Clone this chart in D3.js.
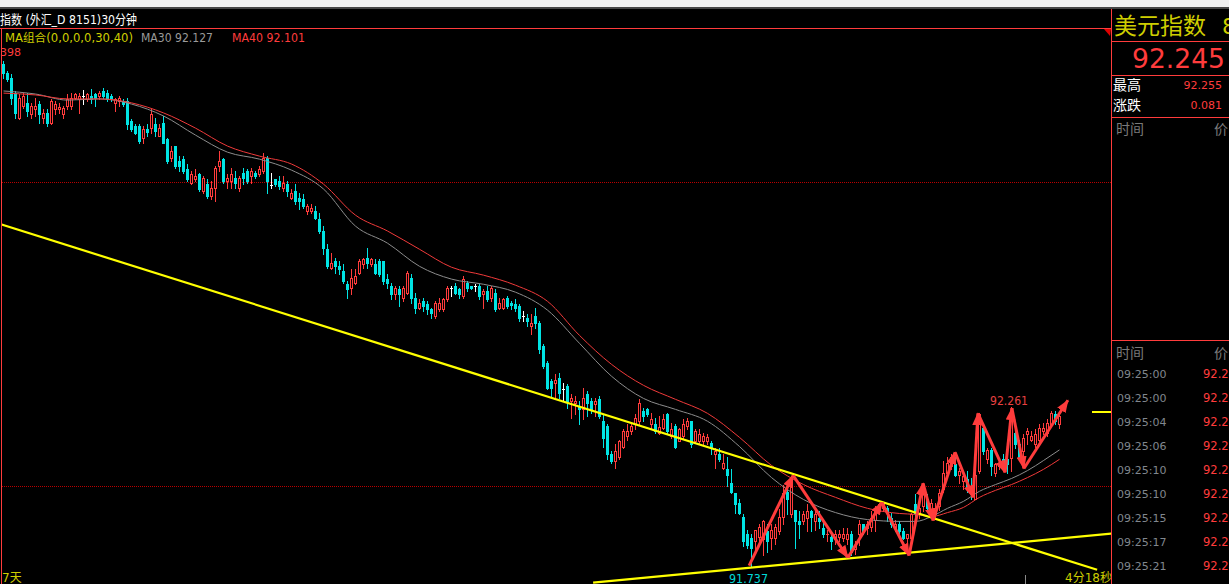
<!DOCTYPE html>
<html><head><meta charset="utf-8">
<script src="https://cdn.jsdelivr.net/npm/d3@7"></script>
<style>
html,body{margin:0;padding:0;background:#000;overflow:hidden;}
svg{display:block;}
text{font-family:"DejaVu Sans","Noto Sans CJK SC",sans-serif;}
</style></head><body>
<svg id="c" width="1229" height="584"></svg>
<script>
// ---------------- DATA ----------------
const opens=[
93.388,93.358,93.342,93.292,93.210,93.250,93.260,93.223,93.240,93.256,
93.210,93.227,93.194,93.240,93.240,93.223,93.250,93.250,93.276,93.273,
93.283,93.273,93.283,93.289,93.283,93.299,93.292,93.283,93.260,93.266,
93.266,93.266,93.200,93.184,93.184,93.144,93.174,93.177,93.190,93.151,
93.194,93.141,93.079,93.118,93.069,93.075,93.042,92.996,93.010,93.026,
92.970,92.993,92.954,92.980,93.052,93.075,93.003,93.003,93.013,92.980,
93.029,93.036,93.019,93.029,93.026,93.036,93.079,92.990,93.010,93.003,
92.980,92.993,92.947,92.970,92.947,92.944,92.904,92.904,92.904,92.878,
92.839,92.779,92.717,92.740,92.723,92.707,92.664,92.651,92.668,92.700,
92.730,92.750,92.730,92.730,92.740,92.740,92.681,92.658,92.631,92.648,
92.618,92.635,92.684,92.618,92.585,92.608,92.598,92.582,92.559,92.582,
92.582,92.615,92.651,92.658,92.648,92.625,92.668,92.658,92.658,92.658,
92.631,92.641,92.618,92.635,92.585,92.585,92.618,92.602,92.598,92.592,
92.559,92.552,92.526,92.559,92.536,92.460,92.404,92.345,92.339,92.355,
92.319,92.329,92.279,92.273,92.263,92.253,92.302,92.279,92.270,92.286,
92.214,92.197,92.105,92.082,92.098,92.131,92.164,92.181,92.204,92.214,
92.247,92.253,92.204,92.204,92.174,92.191,92.237,92.164,92.197,92.148,
92.164,92.197,92.214,92.148,92.148,92.148,92.148,92.141,92.105,92.105,
92.059,92.056,92.010,91.977,91.944,91.901,91.845,91.829,91.819,91.835,
91.826,91.852,91.829,91.829,91.852,91.901,91.983,91.908,91.924,91.885,
91.885,91.895,91.918,91.885,91.895,91.862,91.842,91.835,91.826,91.835,
91.829,91.826,91.845,91.793,91.842,91.875,91.862,91.868,91.891,91.918,
91.928,91.928,91.895,91.862,91.875,91.852,91.829,91.829,91.941,91.908,
91.934,91.960,91.918,91.908,91.934,91.990,92.043,92.066,92.072,92.039,
92.017,92.023,92.000,91.960,92.049,92.191,92.089,92.121,92.043,92.066,
92.089,92.089,92.092,92.174,92.138,92.115,92.171,92.154,92.138,92.154,
92.181,92.174,92.204,92.237,92.204];
const highs=[
93.398,93.365,93.355,93.299,93.289,93.292,93.292,93.260,93.276,93.266,
93.240,93.240,93.273,93.266,93.260,93.250,93.289,93.292,93.292,93.292,
93.302,93.292,93.306,93.292,93.299,93.309,93.302,93.289,93.276,93.283,
93.273,93.276,93.207,93.190,93.190,93.184,93.190,93.240,93.210,93.190,
93.217,93.144,93.118,93.118,93.085,93.085,93.059,93.036,93.042,93.029,
93.019,93.010,93.003,93.052,93.102,93.079,93.026,93.046,93.036,93.019,
93.046,93.042,93.046,93.036,93.052,93.095,93.085,93.029,93.010,93.019,
93.019,93.003,92.977,92.993,92.964,92.960,92.927,92.927,92.921,92.898,
92.855,92.796,92.766,92.750,92.740,92.730,92.674,92.714,92.714,92.746,
92.750,92.783,92.750,92.746,92.746,92.740,92.697,92.668,92.658,92.658,
92.658,92.707,92.697,92.635,92.615,92.618,92.608,92.585,92.608,92.618,
92.618,92.658,92.658,92.668,92.651,92.690,92.674,92.658,92.664,92.664,
92.648,92.658,92.658,92.648,92.618,92.618,92.625,92.608,92.615,92.598,
92.575,92.566,92.566,92.585,92.543,92.467,92.411,92.352,92.368,92.371,
92.339,92.335,92.302,92.296,92.279,92.322,92.312,92.289,92.289,92.296,
92.237,92.204,92.115,92.138,92.154,92.187,92.204,92.207,92.237,92.286,
92.256,92.256,92.240,92.224,92.230,92.237,92.240,92.207,92.204,92.191,
92.220,92.224,92.214,92.187,92.187,92.174,92.171,92.148,92.125,92.125,
92.105,92.098,92.056,91.977,91.957,91.908,91.858,91.842,91.858,91.875,
91.891,91.875,91.878,91.875,91.927,92.006,92.010,92.033,91.924,91.918,
91.918,91.941,91.924,91.927,91.918,91.885,91.858,91.852,91.858,91.858,
91.862,91.862,91.852,91.819,91.891,91.878,91.885,91.918,91.934,91.944,
91.950,91.934,91.911,91.891,91.885,91.862,91.845,91.911,91.974,91.941,
92.010,91.974,91.960,91.944,91.990,92.082,92.098,92.108,92.098,92.059,
92.039,92.049,92.026,92.092,92.240,92.204,92.125,92.125,92.076,92.092,
92.105,92.092,92.261,92.191,92.154,92.171,92.191,92.181,92.187,92.204,
92.207,92.220,92.247,92.247,92.240];
const lows=[
93.342,93.332,93.256,93.210,93.207,93.243,93.217,93.210,93.217,93.194,
93.194,93.184,93.190,93.223,93.227,93.210,93.240,93.240,93.273,93.227,
93.256,93.266,93.260,93.250,93.273,93.276,93.266,93.266,93.233,93.250,
93.250,93.174,93.167,93.158,93.128,93.128,93.151,93.161,93.151,93.151,
93.128,93.062,93.069,93.046,93.036,93.029,93.003,92.993,93.003,92.970,
92.964,92.947,92.944,92.937,93.036,92.996,92.980,92.980,92.980,92.970,
92.993,92.996,92.996,93.013,93.019,93.029,92.964,92.980,92.987,92.977,
92.970,92.954,92.944,92.927,92.911,92.914,92.894,92.898,92.878,92.832,
92.763,92.717,92.714,92.700,92.697,92.668,92.618,92.631,92.664,92.697,
92.717,92.717,92.723,92.697,92.690,92.664,92.651,92.615,92.615,92.592,
92.608,92.631,92.602,92.569,92.582,92.575,92.566,92.552,92.552,92.575,
92.575,92.608,92.625,92.631,92.618,92.618,92.641,92.648,92.641,92.615,
92.585,92.608,92.608,92.575,92.582,92.582,92.585,92.582,92.575,92.543,
92.543,92.526,92.500,92.520,92.437,92.388,92.319,92.296,92.289,92.289,
92.279,92.256,92.224,92.237,92.204,92.220,92.230,92.240,92.230,92.224,
92.131,92.089,92.076,92.059,92.089,92.125,92.154,92.171,92.187,92.204,
92.214,92.230,92.191,92.174,92.171,92.187,92.174,92.158,92.125,92.148,
92.158,92.187,92.131,92.141,92.138,92.138,92.138,92.105,92.059,92.082,
92.056,92.000,91.977,91.911,91.908,91.803,91.796,91.737,91.779,91.809,
91.776,91.786,91.793,91.812,91.845,91.875,91.908,91.901,91.796,91.829,
91.875,91.852,91.852,91.858,91.862,91.835,91.819,91.793,91.812,91.819,
91.819,91.812,91.776,91.779,91.809,91.842,91.845,91.852,91.852,91.911,
91.918,91.885,91.868,91.852,91.845,91.826,91.809,91.819,91.885,91.895,
91.918,91.918,91.911,91.895,91.924,91.983,92.026,92.056,92.033,92.010,
91.993,91.983,91.960,91.957,92.043,92.105,92.076,92.039,92.033,92.056,
92.059,92.043,92.049,92.125,92.092,92.089,92.138,92.148,92.131,92.148,
92.171,92.164,92.197,92.204,92.191];
const closes=[
93.358,93.338,93.276,93.227,93.276,93.283,93.233,93.250,93.250,93.223,
93.227,93.194,93.266,93.256,93.246,93.243,93.273,93.276,93.289,93.283,
93.283,93.289,93.273,93.276,93.292,93.283,93.273,93.273,93.273,93.276,
93.256,93.190,93.174,93.161,93.135,93.174,93.164,93.223,93.167,93.177,
93.128,93.069,93.102,93.052,93.052,93.036,93.010,93.026,93.019,92.977,
93.013,92.954,92.980,93.046,93.069,93.003,93.013,93.026,92.996,93.013,
93.013,93.003,93.036,93.019,93.042,93.079,93.003,92.990,92.993,92.987,
92.996,92.970,92.964,92.937,92.937,92.921,92.921,92.914,92.881,92.839,
92.783,92.723,92.733,92.723,92.714,92.674,92.648,92.684,92.690,92.740,
92.746,92.733,92.746,92.700,92.697,92.674,92.668,92.631,92.651,92.631,
92.651,92.700,92.618,92.585,92.602,92.592,92.582,92.569,92.602,92.602,
92.615,92.651,92.651,92.635,92.631,92.681,92.651,92.651,92.658,92.625,
92.641,92.615,92.651,92.582,92.602,92.615,92.592,92.595,92.585,92.552,
92.559,92.543,92.536,92.536,92.450,92.395,92.322,92.322,92.348,92.306,
92.319,92.279,92.289,92.279,92.253,92.289,92.273,92.253,92.279,92.230,
92.158,92.105,92.082,92.115,92.148,92.181,92.181,92.197,92.224,92.273,
92.230,92.237,92.220,92.181,92.194,92.220,92.181,92.187,92.131,92.187,
92.204,92.214,92.138,92.181,92.171,92.164,92.161,92.125,92.115,92.089,
92.076,92.039,91.983,91.941,91.911,91.819,91.809,91.796,91.858,91.868,
91.885,91.819,91.858,91.868,91.901,91.977,91.957,92.017,91.885,91.875,
91.908,91.918,91.901,91.908,91.885,91.842,91.845,91.819,91.842,91.842,
91.845,91.842,91.786,91.809,91.878,91.852,91.875,91.895,91.924,91.941,
91.944,91.911,91.878,91.878,91.852,91.829,91.842,91.908,91.911,91.928,
91.977,91.928,91.944,91.928,91.977,92.043,92.076,92.098,92.039,92.049,
92.033,91.993,91.977,92.039,92.237,92.115,92.121,92.066,92.072,92.076,
92.072,92.072,92.220,92.138,92.098,92.158,92.181,92.164,92.171,92.191,
92.191,92.207,92.240,92.214,92.230];

// moving averages read at sampled bar indices
const maIndex=[0,8,16,24,32,40,48,56,64,72,80,88,96,104,112,120,128,136,144,152,160,168,176,184,192,200,208,216,224,228,232,236,240,244,248,252,256,260,264];
const ma30=[93.299,93.289,93.269,93.273,93.256,93.217,93.154,93.098,93.075,93.039,92.977,92.855,92.799,92.723,92.681,92.664,92.638,92.579,92.470,92.362,92.289,92.253,92.214,92.131,92.029,91.957,91.914,91.891,91.885,91.885,91.901,91.928,91.951,91.984,92.006,92.026,92.052,92.085,92.120];
const ma40=[93.292,93.286,93.273,93.273,93.260,93.227,93.177,93.118,93.085,93.059,92.993,92.891,92.839,92.779,92.720,92.694,92.661,92.608,92.496,92.401,92.332,92.286,92.240,92.161,92.069,92.006,91.964,91.928,91.911,91.908,91.901,91.914,91.931,91.964,91.987,92.006,92.029,92.056,92.089];

const gridPrices=[92,93];
// trend lines: [barIndex, price] endpoints
const trendLines=[[[-0.875,92.862],[273.4,91.726]],[[147.4,91.684],[277.1,91.845]]];
// zigzag arrows: [barIndex, price]
const arrowPts=[[186.4,91.740],[197.4,92.036],[211.1,91.766],[219.6,91.947],[226.4,91.773],[229.9,92.010],[232.4,91.888],[237.9,92.112],[242.4,91.964],[243.6,92.240],[250.4,92.046],[252.1,92.257],[255.1,92.059],[266.1,92.283]];

const titleText="指数 (外汇_D 8151)30分钟";
const legendParts=["MA组合(0,0,0,0,30,40)","MA30 92.127","MA40 92.101"];
const topLabel="93.398";
const highLabel="92.261", lowLabel="91.737";
const symbolName="美元指数", symbolCode="8151";
const lastPrice="92.245";
const infoLabels=["最高","涨跌"], infoValues=["92.255","0.081"];
const lastPriceValue=92.245;
const tickTimes=["09:25:00","09:25:00","09:25:04","09:25:06","09:25:10","09:25:10","09:25:15","09:25:17","09:25:21"];
const tickPrices=["92.245","92.245","92.244","92.244","92.243","92.244","92.245","92.245","92.245"];
const bottomLeft="7天", bottomRight="4分18秒";

// ---------------- DRAW ----------------
const W=1229,H=584;
const RED='#ff3c3c', CYAN='#00e4e4', YEL='#ffff00', TXTY='#cece00';
const svg=d3.select('#c');
const x=d3.scaleLinear().domain([0,264]).range([3.5,1059.5]);
const y=d3.scaleLinear().domain([92,93]).range([486.4,182]);

svg.append('rect').attr('width',W).attr('height',H).attr('fill','#000');
svg.append('rect').attr('width',W).attr('height',7).attr('fill','#f0f0f0');
svg.append('rect').attr('y',7).attr('width',W).attr('height',2).attr('fill','#464646');

const defs=svg.append('defs');
defs.append('clipPath').attr('id','plot').append('rect').attr('x',2).attr('y',29).attr('width',1109).attr('height',555);
defs.append('marker').attr('id','ah').attr('viewBox','0 0 13 10').attr('refX',12).attr('refY',5)
  .attr('markerWidth',13).attr('markerHeight',10).attr('markerUnits','userSpaceOnUse').attr('orient','auto')
  .append('path').attr('d','M0,0L13,5L0,10Z').attr('fill',RED);

// frame lines
const frame=svg.append('g').attr('shape-rendering','crispEdges');
frame.append('line').attr('x1',0).attr('x2',1111).attr('y1',28.5).attr('y2',28.5).attr('stroke',RED);
frame.append('line').attr('x1',1.5).attr('x2',1.5).attr('y1',28).attr('y2',H).attr('stroke',RED);
frame.append('line').attr('x1',1111.5).attr('x2',1111.5).attr('y1',9).attr('y2',H).attr('stroke',RED);
[41.5,75.5,117.5,340.5].forEach(v=>frame.append('line').attr('x1',1112).attr('x2',W).attr('y1',v).attr('y2',v).attr('stroke',RED));

const plot=svg.append('g').attr('clip-path','url(#plot)');
plot.selectAll('line.grid').data(gridPrices).join('line').attr('class','grid')
  .attr('x1',2).attr('x2',1111).attr('y1',d=>Math.round(y(d))+0.5).attr('y2',d=>Math.round(y(d))+0.5)
  .attr('stroke','#b80000').attr('stroke-dasharray','1,1').attr('shape-rendering','crispEdges');

// candles
const candles=d3.range(opens.length).map(i=>({i,o:opens[i],h:highs[i],l:lows[i],c:closes[i]}));
const colorOf=d=>d.c>d.o?RED:(d.c<d.o?CYAN:'#ffffff');
const cg=plot.append('g').attr('shape-rendering','crispEdges');
const g=cg.selectAll('g').data(candles).join('g');
g.append('line')
  .attr('x1',d=>Math.floor(x(d.i))+0.5).attr('x2',d=>Math.floor(x(d.i))+0.5)
  .attr('y1',d=>Math.round(y(d.h))).attr('y2',d=>Math.round(y(d.l))+1)
  .attr('stroke',colorOf);
g.each(function(d){
  const sel=d3.select(this);
  const cx=Math.floor(x(d.i));
  const yo=Math.round(y(d.o)), yc=Math.round(y(d.c));
  const top=Math.min(yo,yc), bot=Math.max(yo,yc);
  if(d.c>d.o && bot-top>=2){
    sel.append('rect').attr('x',cx-0.5).attr('y',top+0.5).attr('width',2).attr('height',bot-top)
      .attr('fill','#000').attr('stroke',RED);
  } else {
    sel.append('rect').attr('x',cx-1).attr('y',top).attr('width',3).attr('height',Math.max(1,bot-top+1)).attr('fill',colorOf(d));
  }
});

// moving averages
const maLine=d3.line().x(d=>x(d[0])).y(d=>y(d[1])).curve(d3.curveMonotoneX);
plot.append('path').datum(maIndex.map((k,j)=>[k,ma30[j]])).attr('d',maLine).attr('fill','none').attr('stroke','#8c8c8c').attr('stroke-width',1);
plot.append('path').datum(maIndex.map((k,j)=>[k,ma40[j]])).attr('d',maLine).attr('fill','none').attr('stroke','#f03a3a').attr('stroke-width',1);

// trend lines
plot.selectAll('line.trend').data(trendLines).join('line').attr('class','trend')
  .attr('x1',d=>x(d[0][0])).attr('y1',d=>y(d[0][1])).attr('x2',d=>x(d[1][0])).attr('y2',d=>y(d[1][1]))
  .attr('stroke',YEL).attr('stroke-width',2.2);

// current price marker
svg.append('rect').attr('x',1092).attr('y',Math.round(y(lastPriceValue))-1).attr('width',19).attr('height',1.5)
  .attr('fill',YEL).attr('shape-rendering','crispEdges');

// zigzag arrows
const segs=d3.pairs(arrowPts);
plot.selectAll('line.arr').data(segs).join('line').attr('class','arr')
  .attr('x1',d=>x(d[0][0])).attr('y1',d=>y(d[0][1])).attr('x2',d=>x(d[1][0])).attr('y2',d=>y(d[1][1]))
  .attr('stroke',RED).attr('stroke-width',3).attr('marker-end','url(#ah)');

// high / low labels
plot.append('text').attr('x',990).attr('y',405).attr('font-size',12).attr('fill','#e84040').attr('textLength',38).attr('lengthAdjust','spacingAndGlyphs').text(highLabel);
plot.append('text').attr('x',729).attr('y',582.5).attr('font-size',12).attr('fill','#00d8d8').attr('textLength',39).attr('lengthAdjust','spacingAndGlyphs').text(lowLabel);

// top-left texts
svg.append('text').attr('x',0).attr('y',24).attr('font-size',13).attr('fill','#ffffff')
  .attr('font-family','"Noto Sans CJK SC",sans-serif').attr('textLength',137).attr('lengthAdjust','spacingAndGlyphs').text(titleText);
const legX=[5,141,232], legW=[128,72,73], legC=[TXTY,'#9a9a9a',RED];
legendParts.forEach((t,k)=>svg.append('text').attr('x',legX[k]).attr('y',42).attr('font-size',11.5).attr('fill',legC[k])
  .attr('textLength',legW[k]).attr('lengthAdjust','spacingAndGlyphs').text(t));
svg.append('text').attr('x',21).attr('y',56).attr('font-size',11).attr('fill',RED).attr('text-anchor','end').text(topLabel);

// small marker triangle
svg.append('path').attr('d','M1104,29L1111,29L1110,36Z').attr('fill','#e00000');

// bottom texts
svg.append('text').attr('x',2).attr('y',582).attr('font-size',12).attr('fill',TXTY).text(bottomLeft);
svg.append('text').attr('x',1065).attr('y',582).attr('font-size',12).attr('fill',TXTY).attr('clip-path','url(#plot)').text(bottomRight);
svg.append('line').attr('x1',1025.5).attr('x2',1025.5).attr('y1',575).attr('y2',H).attr('stroke','#8a8a8a').attr('shape-rendering','crispEdges');

// right panel
const cjk='"Noto Sans CJK SC",sans-serif';
svg.append('text').attr('x',1114).attr('y',34).attr('font-size',23).attr('fill',TXTY).attr('font-family',cjk).text(symbolName);
svg.append('text').attr('x',1222).attr('y',34).attr('font-size',22).attr('fill',TXTY).text(symbolCode);
svg.append('text').attr('x',1132).attr('y',68).attr('font-size',26).attr('fill',RED).attr('textLength',93).attr('lengthAdjust','spacingAndGlyphs').text(lastPrice);
infoLabels.forEach((t,k)=>{
  svg.append('text').attr('x',1113).attr('y',90+k*19.5).attr('font-size',14).attr('fill','#ffffff').attr('font-family',cjk).text(t);
  svg.append('text').attr('x',1222).attr('y',89+k*20).attr('font-size',11).attr('fill',RED).attr('text-anchor','end').text(infoValues[k]);
});
[134,358].forEach(v=>{
  svg.append('text').attr('x',1116).attr('y',v).attr('font-size',14).attr('fill','#7a7a7a').attr('font-family',cjk).text('时间');
  svg.append('text').attr('x',1214).attr('y',v).attr('font-size',14).attr('fill','#7a7a7a').attr('font-family',cjk).text('价');
});
tickTimes.forEach((t,k)=>{
  const by=377.5+24.1*k;
  svg.append('text').attr('x',1117).attr('y',by).attr('font-size',11).attr('fill','#80878e').text(t);
  svg.append('text').attr('x',1203).attr('y',by).attr('font-size',11.5).attr('fill',RED).text(tickPrices[k]);
});
</script>
</body></html>
